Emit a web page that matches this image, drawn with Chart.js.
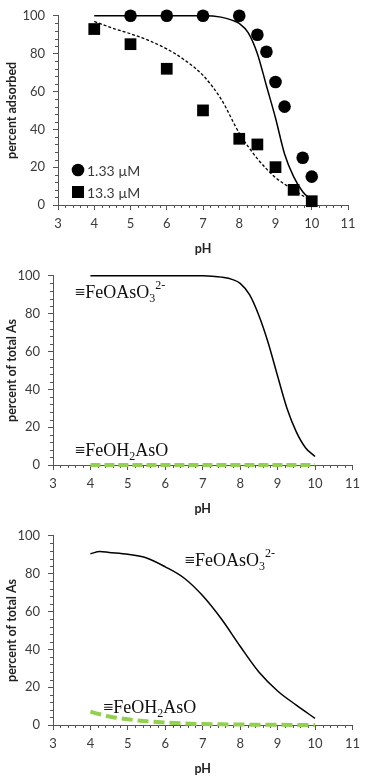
<!DOCTYPE html>
<html>
<head>
<meta charset="utf-8">
<script src="https://cdn.jsdelivr.net/npm/chart.js@4.4.1/dist/chart.umd.min.js"></script>
<style>
  html, body { margin: 0; padding: 0; background: #fff; }
  .panel { width: 366px; height: 260px; position: relative; }
</style>
</head>
<body>
<div class="panel"><canvas id="c1" width="366" height="260"></canvas></div>
<div class="panel"><canvas id="c2" width="366" height="260"></canvas></div>
<div class="panel"><canvas id="c3" width="366" height="260"></canvas></div>
<script>
// panel 1: measured points
const phLow = [5, 6, 7, 8, 8.5, 8.75, 9, 9.25, 9.75, 10];
const adsLow = [100, 100, 100, 100, 90, 81, 65, 52, 25, 15];
const phHigh = [4, 5, 6, 7, 8, 8.5, 9, 9.5, 10];
const adsHigh = [93, 85, 72, 50, 35, 32, 20, 8, 2];
// panel 1: model curves
const phFitLow = [4, 5, 6, 7, 7.5, 7.8, 8, 8.25, 8.5, 8.75, 9, 9.25, 9.5, 9.75, 10];
const fitLow = [100, 100, 100, 100, 99.3, 97.7, 96, 91, 80, 63, 46, 27, 15, 7, 2.5];
const phFitHigh = [4, 4.5, 5, 5.5, 6, 6.5, 7, 7.5, 8, 8.5, 9, 9.5, 10];
const fitHigh = [97, 93.5, 90.5, 87, 82.5, 76.5, 68.5, 56, 38, 24.5, 14.5, 8, 2];
// panel 2: speciation
const phSpec2 = [4, 5, 6, 7, 7.25, 7.5, 7.8, 8, 8.25, 8.5, 8.75, 9, 9.25, 9.5, 9.75, 10];
const bident2 = [100, 100, 100, 100, 99.8, 99.3, 98, 96, 90, 79, 64.5, 47, 30, 17.5, 9, 4.5];
const phMono2 = [4, 5, 6, 7, 8, 9, 10];
const mono2 = [0, 0, 0, 0, 0, 0, 0];
// panel 3: speciation
const phSpec3 = [4, 4.25, 4.5, 5, 5.5, 6, 6.5, 7, 7.5, 8, 8.5, 9, 9.5, 10];
const bident3 = [90.5, 91.7, 91.2, 90.2, 88.3, 83.6, 77.7, 68.3, 56, 41.6, 28, 18, 10.5, 3.5];
const mono3 = [7, 5.7, 4.5, 3, 2, 1.3, 0.8, 0.5, 0.35, 0.25, 0.15, 0.1, 0.05, 0];

const xTicks = [3, 4, 5, 6, 7, 8, 9, 10, 11];
const yTicks = [0, 20, 40, 60, 80, 100];

const AXIS = '#555';
const TXT = '#3a3a3a';
const GREEN = '#92d050';
const SANS = 'Lato, "Open Sans", sans-serif';

const pairs = (xs, ys) => xs.map((x, i) => ({ x, y: ys[i] }));

// short minor ticks between the labelled ones
const minorTicks = {
  id: 'minorTicks',
  beforeDatasetsDraw(chart) {
    const { ctx, chartArea: a } = chart;
    const sx = chart.scales.x, sy = chart.scales.y;
    ctx.save();
    ctx.strokeStyle = AXIS;
    ctx.lineWidth = 1;
    ctx.beginPath();
    for (let v = sx.min; v <= sx.max + 1e-6; v += 0.2) {
      if (Math.abs(v - Math.round(v)) < 1e-6) continue;
      const px = Math.round(sx.getPixelForValue(v)) + 0.5;
      ctx.moveTo(px, a.bottom);
      ctx.lineTo(px, a.bottom + 3);
    }
    for (let v = sy.min; v <= sy.max + 1e-6; v += 4) {
      if (Math.abs(v % 20) < 1e-6) continue;
      const py = Math.round(sy.getPixelForValue(v)) + 0.5;
      ctx.moveTo(a.left, py);
      ctx.lineTo(a.left - 3, py);
    }
    ctx.stroke();
    ctx.restore();
  }
};

// marker legend inside the plot, bottom left
const innerLegend = {
  id: 'innerLegend',
  afterDraw(chart, args, opts) {
    if (!opts.show) return;
    const { ctx, chartArea: a } = chart;
    ctx.save();
    ctx.font = '14px ' + SANS;
    ctx.textBaseline = 'middle';
    chart.data.datasets.filter(d => d.legend).forEach((d, i) => {
      const cx = a.left + 20, cy = a.bottom - 35 + i * 22;
      ctx.fillStyle = '#000';
      ctx.beginPath();
      if (d.pointStyle === 'rect') ctx.rect(cx - 6, cy - 6, 12, 12);
      else ctx.arc(cx, cy, 6.3, 0, Math.PI * 2);
      ctx.fill();
      ctx.fillStyle = TXT;
      ctx.fillText(d.label, cx + 9, cy + 1);
    });
    ctx.restore();
  }
};

// species names with sub/superscripts
const chemLabels = {
  id: 'chemLabels',
  afterDraw(chart, args, opts) {
    if (!opts.items) return;
    const { ctx } = chart;
    ctx.save();
    ctx.fillStyle = '#111';
    ctx.textBaseline = 'alphabetic';
    opts.items.forEach(it => {
      let x = chart.scales.x.getPixelForValue(it.x);
      const y = chart.scales.y.getPixelForValue(it.y);
      it.parts.forEach(p => {
        const size = p.sub || p.sup ? 12 : 18;
        ctx.font = size + 'px "Liberation Serif", "Times New Roman", serif';
        const dy = p.sub ? 4 : (p.sup ? -9 : 0);
        ctx.fillText(p.t, x, y + dy);
        x += ctx.measureText(p.t).width;
      });
    });
    ctx.restore();
  }
};

function makeChart(id, datasets, yTitle, leftW, rightPad, plugins) {
  return new Chart(document.getElementById(id), {
    type: 'scatter',
    data: { datasets },
    plugins: [minorTicks, innerLegend, chemLabels],
    options: {
      responsive: false,
      animation: false,
      devicePixelRatio: 1,
      layout: { padding: { top: 15, right: rightPad, left: 0, bottom: 0 } },
      plugins: Object.assign({ legend: { display: false }, tooltip: { enabled: false } }, plugins),
      scales: {
        x: {
          type: 'linear', min: 3, max: 11,
          afterFit: s => { s.height = 55; },
          afterBuildTicks: s => { s.ticks = xTicks.map(v => ({ value: v })); },
          ticks: { color: TXT, font: { family: SANS, size: 13 }, padding: 6 },
          grid: { drawOnChartArea: false, color: AXIS, tickLength: 5 },
          border: { color: AXIS },
          title: { display: true, text: 'pH', color: '#222', font: { family: SANS, size: 12.5, weight: 'bold' } }
        },
        y: {
          min: 0, max: 100,
          afterFit: s => { s.width = leftW; },
          afterBuildTicks: s => { s.ticks = yTicks.map(v => ({ value: v })); },
          ticks: { color: TXT, font: { family: SANS, size: 13 }, padding: 8 },
          grid: { drawOnChartArea: false, color: AXIS, tickLength: 5 },
          border: { color: AXIS },
          title: { display: true, text: yTitle, color: '#222', font: { family: SANS, size: 12.5, weight: 'bold' } }
        }
      }
    }
  });
}

const lineSet = (xs, ys, extra) => Object.assign({
  data: pairs(xs, ys), showLine: true, pointRadius: 0, borderColor: '#000',
  borderWidth: 1.5, clip: false, order: 2, cubicInterpolationMode: 'monotone'
}, extra);

makeChart('c1', [
  { label: '1.33 µM', legend: true, data: pairs(phLow, adsLow), pointStyle: 'circle', pointRadius: 6.3,
    backgroundColor: '#000', borderWidth: 0, clip: false, order: 0 },
  { label: '13.3 µM', legend: true, data: pairs(phHigh, adsHigh), pointStyle: 'rect', pointRadius: 8.3,
    backgroundColor: '#000', borderWidth: 0, clip: false, order: 0 },
  lineSet(phFitLow, fitLow, { label: 'model 1.33 µM' }),
  lineSet(phFitHigh, fitHigh, { label: 'model 13.3 µM', borderDash: [3, 2], borderWidth: 1.3 })
], 'percent adsorbed', 58, 18, { innerLegend: { show: true } });

const specLabels = (x1, y1, x2, y2) => ({ items: [
  { x: x1, y: y1, parts: [{ t: '≡FeOAsO' }, { t: '3', sub: true }, { t: '2-', sup: true }] },
  { x: x2, y: y2, parts: [{ t: '≡FeOH' }, { t: '2', sub: true }, { t: 'AsO' }] }
] });

makeChart('c2', [
  lineSet(phSpec2, bident2, { label: '≡FeOAsO3 2-' }),
  lineSet(phMono2, mono2, { label: '≡FeOH2AsO', borderColor: GREEN, borderWidth: 4, borderDash: [10, 4] })
], 'percent of total As', 53, 12, { chemLabels: specLabels(3.59, 88.4, 3.59, 5) });

makeChart('c3', [
  lineSet(phSpec3, bident3, { label: '≡FeOAsO3 2-' }),
  lineSet(phSpec3, mono3, { label: '≡FeOH2AsO', borderColor: GREEN, borderWidth: 4, borderDash: [11, 5] })
], 'percent of total As', 53, 12, { chemLabels: specLabels(6.52, 84, 4.34, 6.6) });
</script>
</body>
</html>
